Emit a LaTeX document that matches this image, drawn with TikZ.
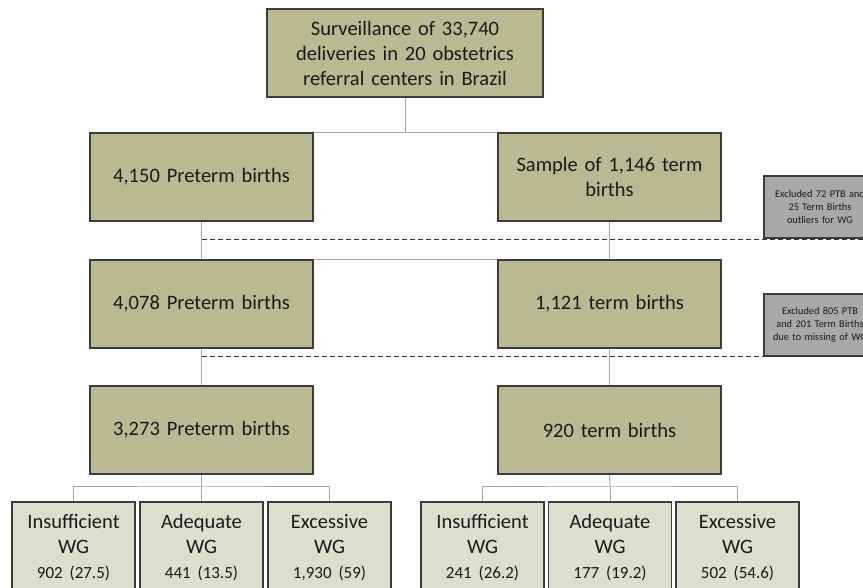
\documentclass[tikz,border=0pt]{standalone}
\usepackage{fontspec}
\setmainfont{Carlito}
\definecolor{olivebox}{HTML}{BBB992}
\definecolor{lightbox}{HTML}{DEDECC}
\definecolor{exbox}{HTML}{A8A8A8}
\definecolor{boxline}{HTML}{3C3C3C}
\definecolor{connline}{HTML}{A6A6A6}
\definecolor{txt}{HTML}{1A1A1A}
\tikzset{
  mainbox/.style={draw=boxline, line width=1.3pt, fill=olivebox, minimum width=223pt, minimum height=88pt, inner sep=2pt, align=center, text=txt, font=\fontsize{20.5}{25}\selectfont, text width=215pt},
  topbox/.style={mainbox, minimum width=276pt, text width=268pt},
  leafbox/.style={draw=boxline, line width=1.2pt, fill=lightbox, minimum width=123pt, minimum height=92pt, inner sep=1pt, align=center, text=txt, font=\fontsize{20.5}{25}\selectfont, text width=120pt},
  exclbox/.style={draw=boxline, line width=1.2pt, fill=exbox, minimum width=112pt, minimum height=62pt, inner sep=1pt, align=center, text=txt, font=\fontsize{10.3}{13}\selectfont, text width=110pt},
  conn/.style={draw=connline, line width=1pt},
  cutline/.style={draw=black!80, line width=1pt, dash pattern=on 5pt off 3pt}
}
\newcommand{\numtxt}[1]{{\fontsize{17}{20}\selectfont #1}}
\begin{document}
\begin{tikzpicture}[x=1pt,y=-1pt]
\clip (0,0) rectangle (863,587);
\fill[white] (0,0) rectangle (863,587);
% junction coordinates
\coordinate (jl) at (201.5,486);
\coordinate (jr) at (610,486);
\coordinate (d1) at (863,239);
\coordinate (d2) at (863,356);
% boxes (positions)
\path
  (405,53)    node[topbox] (top) {Surveillance of 33,740\\deliveries in 20 obstetrics\\referral centers in Brazil}
  (201.5,177) node[mainbox] (p1) {4,150 Preterm births}
  (609.5,177) node[mainbox] (t1) {Sample of 1,146 term\\births}
  (201.5,304) node[mainbox] (p2) {4,078 Preterm births}
  (609.5,304) node[mainbox] (t2) {1,121 term births}
  (201.5,430) node[mainbox] (p3) {3,273 Preterm births}
  (609.5,430) node[mainbox] (t3) {920 term births}
  (73.5,548)  node[leafbox] (b1) {Insufficient\\WG\\\numtxt{902 (27.5)}}
  (201.5,548) node[leafbox] (b2) {Adequate\\WG\\\numtxt{441 (13.5)}}
  (329.5,548) node[leafbox] (b3) {Excessive\\WG\\\numtxt{1,930 (59)}}
  (482.5,548) node[leafbox] (b4) {Insufficient\\WG\\\numtxt{241 (26.2)}}
  (610,548)   node[leafbox] (b5) {Adequate\\WG\\\numtxt{177 (19.2)}}
  (737.5,548) node[leafbox] (b6) {Excessive\\WG\\\numtxt{502 (54.6)}};
% connectors
\draw[conn] (top.south) -- (top.south |- p1.north);
\draw[conn] (p1.north) -- (t1.north);
\draw[conn] (p1.south) -- (p2.north);
\draw[conn] (t1.south) -- (t2.north);
\draw[conn] (p2.north) -- (t2.north);
\draw[conn] (p2.south) -- (p3.north);
\draw[conn] (t2.south) -- (t3.north);
\draw[conn] (p3.south) -- (jl);
\draw[conn] (b1.north) |- (jl) -| (b3.north);
\draw[conn] (jl) -- (b2.north);
\draw[conn] (t3.south) -- (jr);
\draw[conn] (b4.north) |- (jr) -| (b6.north);
\draw[conn] (jr) -- (b5.north);
% dashed exclusion lines
\draw[cutline] (p1.center |- d1) -- (d1);
\draw[cutline] (p2.center |- d2) -- (d2);
% redraw boxes on top of connectors
\path
  (405,53)    node[topbox] {Surveillance of 33,740\\deliveries in 20 obstetrics\\referral centers in Brazil}
  (201.5,177) node[mainbox] {4,150 Preterm births}
  (609.5,177) node[mainbox] {Sample of 1,146 term\\births}
  (201.5,304) node[mainbox] {4,078 Preterm births}
  (609.5,304) node[mainbox] {1,121 term births}
  (201.5,430) node[mainbox] {3,273 Preterm births}
  (609.5,430) node[mainbox] {920 term births};
% exclusion boxes
\node[exclbox] (e1) at (820,207) {Excluded 72 PTB and\\25 Term Births\\outliers for WG};
\node[exclbox] (e2) at (820,325) {Excluded 805 PTB\\and 201 Term Births\\due to missing of WG};
\end{tikzpicture}
\end{document}
